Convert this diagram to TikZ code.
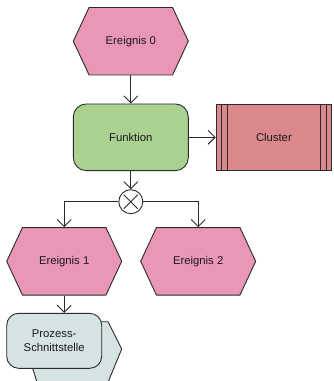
\documentclass[tikz,border=0pt]{standalone}
\usepackage{fontspec}
\setmainfont{Liberation Sans}
\usetikzlibrary{arrows.meta,shapes.symbols,calc}
\definecolor{evtpink}{HTML}{EA96B6}
\definecolor{fngreen}{HTML}{AAD190}
\definecolor{clred}{HTML}{DA888B}
\definecolor{ifgray}{HTML}{D5E4E2}
\definecolor{edge}{HTML}{2B2B2B}

\begin{document}
\begin{tikzpicture}[x=1pt,y=-1pt,
  every node/.style={font=\fontsize{11.3}{14}\selectfont, text=black!90},
  outl/.style={draw=edge, line width=0.9pt},
  event/.style={outl, fill=evtpink, signal, signal to=west and east,
    signal pointer angle=130, minimum width=115pt, minimum height=67.5pt, inner sep=0pt},
  func/.style={outl, fill=fngreen, rectangle, rounded corners=13pt,
    minimum width=115pt, minimum height=66.7pt, inner sep=0pt},
  clus/.style={outl, fill=clred, rectangle, minimum width=115.5pt,
    minimum height=66.7pt, inner sep=0pt},
  iface/.style={outl, fill=ifgray, rectangle, rounded corners=12pt,
    minimum width=95pt, minimum height=55pt, inner sep=0pt, align=center},
  xorc/.style={outl, fill=white, circle, minimum size=24pt, inner sep=0pt},
  link/.style={draw=edge, line width=0.9pt, -{Straight Barb[length=7pt,width=14pt]}}
]
\useasboundingbox (0,0) rectangle (333,381);

% back part of the process interface, cut off by the page edge
\begin{scope}
  \clip (0,0) rectangle (333,381);
  \draw[outl, fill=ifgray] (20,321.7) -- (108,321.7) -- (121.7,349)
    -- (104,392) -- (40,392) -- (26.7,349) -- cycle;
\end{scope}

\node[event] (e0) at (130.8,41.2) {Ereignis 0};
\node[func]  (fn) at (130.8,137.3) {Funktion};
\node[clus]  (cl) at (273.9,137.3) {Cluster};
\node[xorc]  (x)  at (130.8,201.7) {};
\node[event] (e1) at (64.2,261.3) {Ereignis 1};
\node[event] (e2) at (198.2,261.3) {Ereignis 2};
\node[iface] (ps) at (54.2,340.8) {Prozess-\\Schnittstelle};

% double side bars of the cluster
\foreach \d in {6,12}{
  \draw[outl] ([xshift=\d pt]cl.north west) -- ([xshift=\d pt]cl.south west);
  \draw[outl] ([xshift=-\d pt]cl.north east) -- ([xshift=-\d pt]cl.south east);
}

% XOR cross
\draw[outl] ($(x.center)!0.8!(x.north west)$) -- ($(x.center)!0.8!(x.south east)$);
\draw[outl] ($(x.center)!0.8!(x.north east)$) -- ($(x.center)!0.8!(x.south west)$);

% control flow
\draw[link] (e0.south) -- (fn.north);
\draw[link] (fn.east) -- (cl.west);
\draw[link] (fn.south) -- (x.north);
\draw[link] (x.west) -| (e1.north);
\draw[link] (x.east) -| (e2.north);
\draw[link] (e1.south) -- (e1.south |- ps.north);
\end{tikzpicture}
\end{document}
